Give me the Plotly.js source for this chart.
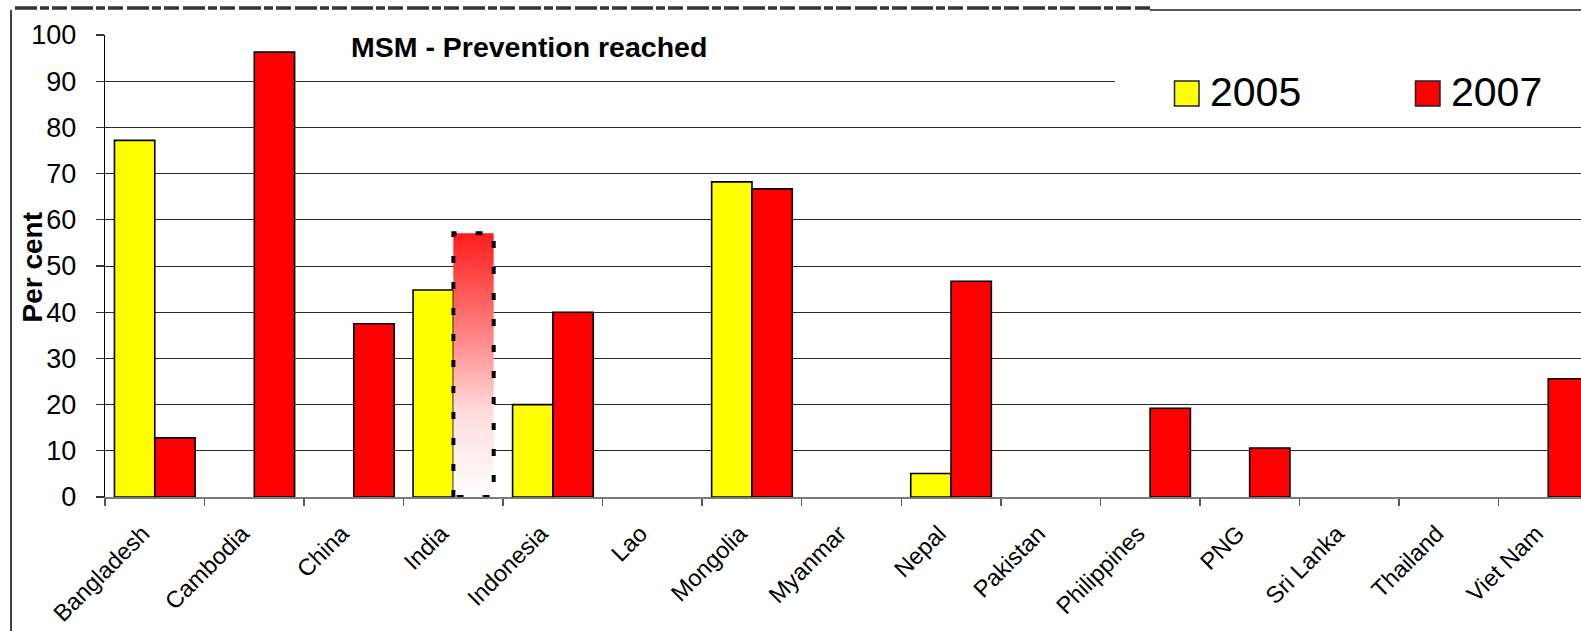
<!DOCTYPE html>
<html>
<head>
<meta charset="utf-8">
<script src="https://cdn.plot.ly/plotly-3.0.1.min.js"></script>
<style>
  html, body { margin: 0; padding: 0; background: #fff; overflow: hidden; }
  #chart { width: 1620px; height: 631px; }
</style>
</head>
<body>
<div id="chart"></div>
<script>
// Share of men who have sex with men reached by prevention programmes, by country
const countries = ['Bangladesh', 'Cambodia', 'China', 'India', 'Indonesia', 'Lao', 'Mongolia',
  'Myanmar', 'Nepal', 'Pakistan', 'Philippines', 'PNG', 'Sri Lanka', 'Thailand', 'Viet Nam'];
const reach2005 = [77.2, null, null, 44.8, 20, null, 68.2, null, 5.1, null, null, null, null, null, null];
const reach2007 = [12.8, 96.3, 37.5, 57.1, 40, null, 66.7, null, 46.7, null, 19.2, 10.6, null, null, 25.6];
const seriesNames = ['2005', '2007'];
const yTickVals = [0, 10, 20, 30, 40, 50, 60, 70, 80, 90, 100];
const gridVals = [10, 20, 30, 40, 50, 60, 70, 80, 90];
const chartTitle = 'MSM - Prevention reached';
const yTitle = 'Per cent';
// the 2007 India figure is drawn with a faded fill and dashed outline
const highlightCountry = 'India';

const FONT = 'Liberation Sans, Arial, sans-serif';
const W = 1620, H = 631;
const M = { l: 105, r: 22, t: 35, b: 134 };
const PW = W - M.l - M.r, PH = H - M.t - M.b;
const px = x => (x - M.l) / PW;          // page x -> paper x
const py = y => (H - M.b - y) / PH;      // page y -> paper y

const traces = [
  {
    type: 'bar', name: seriesNames[0], x: countries, y: reach2005,
    marker: { color: '#FFFF00', line: { color: '#000', width: 1.6 } }
  },
  {
    type: 'bar', name: seriesNames[1], x: countries, y: reach2007,
    marker: { color: '#FF0000', line: { color: '#000', width: 1.6 } }
  },
  // carrier for the gridline axis
  { type: 'scatter', x: [], y: [], yaxis: 'y2', showlegend: false, hoverinfo: 'skip' }
];

const shapes = [
  // white panel behind the key
  { type: 'rect', xref: 'paper', yref: 'paper', layer: 'above',
    x0: px(1115), x1: px(1625), y0: py(117), y1: py(60),
    fillcolor: '#fff', line: { width: 0 } },
  // key swatches
  { type: 'rect', xref: 'paper', yref: 'paper', layer: 'above',
    x0: px(1174.5), x1: px(1199), y0: py(106), y1: py(81),
    fillcolor: '#FFFF00', line: { color: '#222', width: 1.5 } },
  { type: 'rect', xref: 'paper', yref: 'paper', layer: 'above',
    x0: px(1415.5), x1: px(1440), y0: py(106), y1: py(81),
    fillcolor: '#FF0000', line: { color: '#222', width: 1.5 } },
  // outer frame
  { type: 'line', xref: 'paper', yref: 'paper', layer: 'above',
    x0: px(11), x1: px(11), y0: py(10), y1: py(640),
    line: { color: '#000', width: 1.5 } },
  { type: 'line', xref: 'paper', yref: 'paper', layer: 'above',
    x0: px(1150), x1: px(1630), y0: py(10), y1: py(10),
    line: { color: '#222', width: 1.5 } },
  { type: 'line', xref: 'paper', yref: 'paper', layer: 'above',
    x0: px(15), x1: px(1150), y0: py(8), y1: py(8),
    line: { color: '#333', width: 3.5, dash: '22px,3px,9px,3px,15px,4px' } }
];

const annotations = [
  { text: '<b>' + chartTitle + '</b>', xref: 'paper', yref: 'paper',
    x: px(528.5), y: py(46.7), xanchor: 'center', yanchor: 'middle', showarrow: false,
    font: { family: FONT, size: 28.5, color: '#000' } },
  { text: '<b>' + yTitle + '</b>', xref: 'paper', yref: 'paper', textangle: -90,
    x: px(31.5), y: py(267), xanchor: 'center', yanchor: 'middle', showarrow: false,
    font: { family: FONT, size: 28, color: '#000' } },
  { text: seriesNames[0], xref: 'paper', yref: 'paper',
    x: px(1208), y: py(92), xanchor: 'left', yanchor: 'middle', showarrow: false,
    font: { family: FONT, size: 41, color: '#000' } },
  { text: seriesNames[1], xref: 'paper', yref: 'paper',
    x: px(1449), y: py(92), xanchor: 'left', yanchor: 'middle', showarrow: false,
    font: { family: FONT, size: 41, color: '#000' } }
];

const layout = {
  width: W, height: H,
  margin: M,
  paper_bgcolor: '#fff', plot_bgcolor: '#fff',
  showlegend: false,
  barmode: 'group', bargap: 0.19, bargroupgap: 0,
  font: { family: FONT, color: '#000' },
  xaxis: {
    type: 'category', categoryorder: 'array', categoryarray: countries,
    range: [-0.5, countries.length - 0.5],
    tickangle: -45, tickfont: { family: FONT, size: 23.5, color: '#000' },
    ticks: 'outside', tickson: 'boundaries', ticklen: 7, tickcolor: '#555', tickwidth: 1.5,
    ticklabelstandoff: 12, ticklabelshift: -12,
    showline: true, linecolor: '#7a7a7a', linewidth: 1.5,
    showgrid: false, zeroline: false
  },
  yaxis: {
    range: [0, 100], tickmode: 'array', tickvals: yTickVals,
    tickfont: { family: FONT, size: 27, color: '#000' },
    ticks: 'outside', ticklen: 8, tickcolor: '#333', tickwidth: 1.2,
    ticklabelstandoff: 14,
    showline: true, linecolor: '#000', linewidth: 1.2,
    showgrid: false, zeroline: false
  },
  yaxis2: {
    overlaying: 'y', side: 'left', range: [0, 100],
    tickmode: 'array', tickvals: gridVals,
    showgrid: true, gridcolor: '#2a2a2a', gridwidth: 1,
    showticklabels: false, ticks: '', showline: false, zeroline: false
  },
  shapes: shapes,
  annotations: annotations
};

Plotly.newPlot('chart', traces, layout, { staticPlot: true, displayModeBar: false }).then(gd => {
  const ns = 'http://www.w3.org/2000/svg';
  const svg = gd.querySelector('.main-svg');
  let defs = svg.querySelector('defs');
  if (!defs) { defs = document.createElementNS(ns, 'defs'); svg.insertBefore(defs, svg.firstChild); }
  const grad = document.createElementNS(ns, 'linearGradient');
  grad.setAttribute('id', 'fade2007');
  grad.setAttribute('x1', '0'); grad.setAttribute('y1', '0');
  grad.setAttribute('x2', '0'); grad.setAttribute('y2', '1');
  [['0', '#ff1c1c'], ['0.35', '#ff7a7a'], ['0.68', '#ffdcdc'], ['1', '#ffffff']].forEach(([o, c]) => {
    const s = document.createElementNS(ns, 'stop');
    s.setAttribute('offset', o); s.setAttribute('stop-color', c);
    grad.appendChild(s);
  });
  defs.appendChild(grad);

  const idx = countries.indexOf(highlightCountry);
  const groups = gd.querySelectorAll('.barlayer .trace');
  if (groups.length > 1) {
    const pts = groups[1].querySelectorAll('.point');
    const path = pts[idx] && pts[idx].querySelector('path');
    if (path) {
      path.style.fill = 'url(#fade2007)';
      path.style.stroke = '#000';
      path.style.strokeWidth = '4px';
      path.style.strokeDasharray = '7 19';
    }
  }
});
</script>
</body>
</html>
